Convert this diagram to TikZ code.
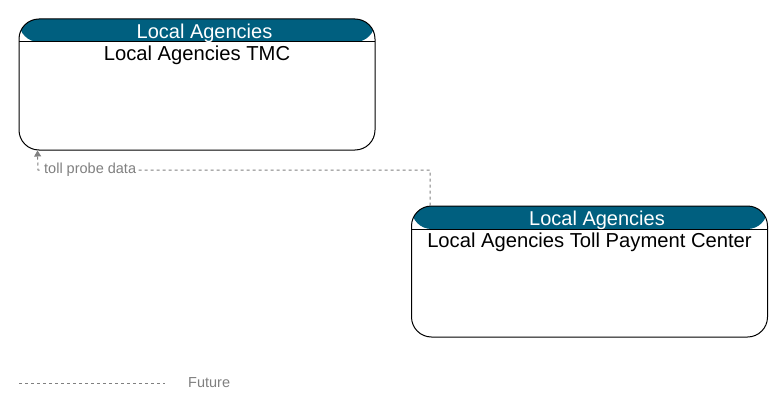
\documentclass[tikz,border=0pt]{standalone}
\usepackage{fontspec}
\setmainfont{Liberation Sans}
\usetikzlibrary{arrows.meta}
\definecolor{agencyhead}{RGB}{0,95,127}
\definecolor{flowgray}{RGB}{128,128,128}

\begin{document}
\begin{tikzpicture}[x=1pt,y=-1pt,
  element/.style={draw=black,line width=1pt,rounded corners=20pt,
    minimum width=356pt,minimum height=131pt,inner sep=0pt,
    path picture={
      \fill[agencyhead] (path picture bounding box.north west) rectangle ([yshift=-23pt]path picture bounding box.north east);
      \draw[line width=1pt] ([yshift=-23pt]path picture bounding box.north west) -- ([yshift=-23pt]path picture bounding box.north east);}},
  headtext/.style={text=white,inner sep=0pt,anchor=base,font=\fontsize{20}{24}\selectfont},
  bodytext/.style={text=black,inner sep=0pt,anchor=base,font=\fontsize{20.2}{24}\selectfont},
  future/.style={draw=flowgray,line width=1pt,dash pattern=on 3pt off 3pt},
  flowlabel/.style={text=flowgray,fill=white,inner sep=2pt,font=\fontsize{14.5}{17}\selectfont}
]
\useasboundingbox (0,0) rectangle (783,412);
% elements
\node[element] (tmc) at (197,84.5) {};
\node[headtext] at ([xshift=7.5pt,yshift=-20pt]tmc.north) {Local Agencies};
\node[bodytext] at ([yshift=-41.7pt]tmc.north) {Local Agencies TMC};
\node[element] (tpc) at (589.5,271.5) {};
\node[headtext] at ([xshift=7.5pt,yshift=-20pt]tpc.north) {Local Agencies};
\node[bodytext] at ([yshift=-41.7pt]tpc.north) {Local Agencies Toll Payment Center};
% flow
\coordinate (bend) at (38,170);
\draw[future,-{Triangle[width=7pt,length=6pt]},flowgray] ([xshift=19pt]tpc.north west) |- (bend) -- ([xshift=19pt]tmc.south west);
\node[flowlabel,anchor=west] at ([xshift=4pt]bend) {toll probe data};
% legend
\coordinate (legA) at (19,383);
\coordinate (legB) at (165,383);
\draw[future] (legA) -- (legB);
\node[flowlabel,anchor=west] at (186,383) {Future};
\end{tikzpicture}
\end{document}
